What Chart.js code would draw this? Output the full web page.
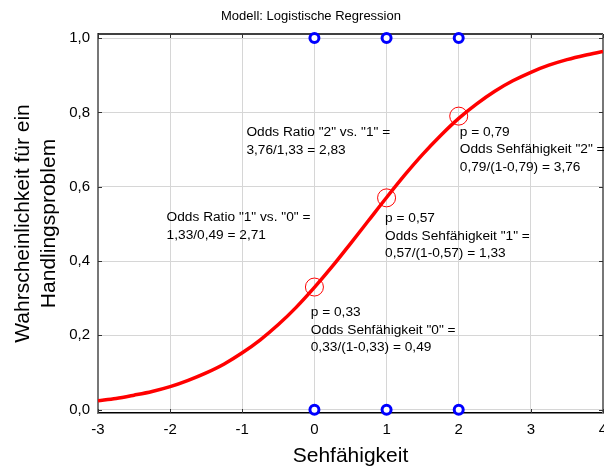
<!DOCTYPE html>
<html lang="de">
<head>
<meta charset="utf-8">
<title>Modell: Logistische Regression</title>
<script src="https://cdn.jsdelivr.net/npm/chart.js@4.4.0/dist/chart.umd.min.js"></script>
<style>
  html, body { margin: 0; padding: 0; background: #fff; }
  #wrap { width: 604px; height: 470px; }
</style>
</head>
<body>
<div id="wrap"><canvas id="logitChart" width="604" height="470"></canvas></div>
<script>
// ==================== Data ====================

const xTicks = [-3, -2, -1, 0, 1, 2, 3, 4];
const yTicks = [0, 0.2, 0.4, 0.6, 0.8, 1.0];

// fitted logistic curve, sampled every 0.25
const curveX = [-3, -2.75, -2.5, -2.25, -2, -1.75, -1.5, -1.25, -1, -0.75, -0.5, -0.25,
                0, 0.25, 0.5, 0.75, 1, 1.25, 1.5, 1.75, 2, 2.25, 2.5, 2.75, 3, 3.25, 3.5, 3.75, 4];
const curveY = [0.024, 0.030, 0.039, 0.049, 0.062, 0.079, 0.099, 0.123, 0.153, 0.188, 0.229, 0.276,
                0.329, 0.386, 0.447, 0.509, 0.571, 0.631, 0.687, 0.738, 0.784, 0.823, 0.857, 0.885,
                0.908, 0.927, 0.942, 0.954, 0.964];

// observed cases (1 = Handlingsproblem, 0 = keins)
const obsX = [0, 1, 2, 0, 1, 2];
const obsY = [1, 1, 1, 0, 0, 0];

// predicted probabilities per Sehfähigkeit level
const predX = [0, 1, 2];
const predY = [0.33, 0.57, 0.79];

// annotation texts and their anchors (data units: x, y of first line)
const noteLines = [
    ['Odds Ratio "2" vs. "1" =', '3,76/1,33 = 2,83'],
    ['Odds Ratio "1" vs. "0" =', '1,33/0,49 = 2,71'],
    ['p = 0,57', 'Odds Sehfähigkeit "1" =', '0,57/(1-0,57) = 1,33'],
    ['p = 0,33', 'Odds Sehfähigkeit "0" =', '0,33/(1-0,33) = 0,49'],
    ['p = 0,79', 'Odds Sehfähigkeit "2" =', '0,79/(1-0,79) = 3,76']
];
const noteAnchors = [[-0.943, 0.746], [-2.049, 0.517], [0.979, 0.514], [-0.051, 0.262], [2.015, 0.747]];

// ==================== Helpers ====================

const FONT = "'Liberation Sans', Arial, sans-serif";
Chart.defaults.font.family = FONT;
Chart.defaults.color = '#000';

const toPoints = (xs, ys) => xs.map((x, i) => ({ x: x, y: ys[i] }));
const formatDecimal = v => v.toFixed(1).replace('.', ',');

/**
 * Rahmen oben/rechts und kurze Ticks nach innen
 */
const framePlugin = {
    id: 'frame',
    beforeDatasetsDraw(chart) {
        const { ctx, chartArea: a, scales } = chart;
        ctx.save();
        ctx.strokeStyle = '#000';
        ctx.lineWidth = 1.5;
        ctx.beginPath();
        ctx.moveTo(a.left, a.top);
        ctx.lineTo(a.right, a.top);
        ctx.stroke();

        ctx.strokeStyle = '#777';
        ctx.lineWidth = 2;
        ctx.beginPath();
        ctx.moveTo(a.right, a.top);
        ctx.lineTo(a.right, a.bottom);
        ctx.stroke();

        ctx.strokeStyle = '#333';
        ctx.lineWidth = 1;
        ctx.beginPath();
        xTicks.forEach(v => {
            const px = Math.round(scales.x.getPixelForValue(v)) + 0.5;
            ctx.moveTo(px, a.top); ctx.lineTo(px, a.top + 4);
            ctx.moveTo(px, a.bottom); ctx.lineTo(px, a.bottom - 4);
        });
        yTicks.forEach(v => {
            const py = Math.round(scales.y.getPixelForValue(v)) + 0.5;
            ctx.moveTo(a.left, py); ctx.lineTo(a.left + 4, py);
            ctx.moveTo(a.right, py); ctx.lineTo(a.right - 4, py);
        });
        ctx.stroke();
        ctx.restore();
    }
};

/**
 * Textblöcke im Diagramm
 */
const notesPlugin = {
    id: 'notes',
    afterDatasetsDraw(chart) {
        const { ctx, scales: { x, y } } = chart;
        ctx.save();
        ctx.font = '13.7px ' + FONT;
        ctx.fillStyle = '#000';
        ctx.textAlign = 'left';
        ctx.textBaseline = 'middle';
        noteLines.forEach((lines, i) => {
            const px = x.getPixelForValue(noteAnchors[i][0]);
            const py = y.getPixelForValue(noteAnchors[i][1]);
            lines.forEach((t, k) => ctx.fillText(t, px, py + k * 17.5));
        });
        ctx.restore();
    }
};

/**
 * Überschrift
 */
const headerPlugin = {
    id: 'header',
    afterDraw(chart) {
        const ctx = chart.ctx;
        ctx.save();
        ctx.font = '13px ' + FONT;
        ctx.fillStyle = '#000';
        ctx.textAlign = 'center';
        ctx.textBaseline = 'middle';
        ctx.fillText('Modell: Logistische Regression', 311, 16.5);
        ctx.restore();
    }
};

// ==================== Chart ====================

new Chart(document.getElementById('logitChart'), {
    type: 'scatter',
    data: {
        datasets: [
            {
                type: 'line',
                data: toPoints(curveX, curveY),
                borderColor: '#ff0000',
                borderWidth: 3.5,
                pointRadius: 0,
                cubicInterpolationMode: 'monotone',
                fill: false,
                order: 2
            },
            {
                data: toPoints(predX, predY),
                pointRadius: 9,
                borderWidth: 1,
                borderColor: '#ff0000',
                backgroundColor: 'rgba(0,0,0,0)',
                order: 1
            },
            {
                data: toPoints(obsX, obsY),
                pointRadius: 4.5,
                borderWidth: 3,
                borderColor: '#0000ff',
                backgroundColor: '#ffffff',
                clip: false,
                order: 0
            }
        ]
    },
    options: {
        responsive: false,
        animation: false,
        events: [],
        layout: { autoPadding: false, padding: { top: 34, right: 1, left: 0, bottom: 0 } },
        plugins: {
            legend: { display: false },
            tooltip: { enabled: false }
        },
        scales: {
            x: {
                type: 'linear',
                min: -3,
                max: 4,
                afterBuildTicks: s => { s.ticks = xTicks.map(v => ({ value: v })); },
                afterFit: s => { s.height = 57; s.paddingLeft = 0; s.paddingRight = 0; },
                grid: { color: '#d6d6d6', lineWidth: 1, drawTicks: false },
                border: { color: '#000', width: 1.5 },
                ticks: { padding: 8, font: { size: 15 }, maxRotation: 0, autoSkip: false, callback: v => String(v) },
                title: { display: true, text: 'Sehfähigkeit', font: { size: 21 }, padding: { top: 0, bottom: 1 } }
            },
            y: {
                type: 'linear',
                min: -0.009,
                max: 1.011,
                afterBuildTicks: s => { s.ticks = yTicks.map(v => ({ value: v })); },
                afterFit: s => { s.width = 98; s.paddingTop = 0; s.paddingBottom = 0; },
                grid: { color: '#d6d6d6', lineWidth: 1, drawTicks: false },
                border: { color: '#777', width: 2 },
                ticks: { padding: 8, font: { size: 15 }, autoSkip: false, callback: v => formatDecimal(v) },
                title: {
                    display: true,
                    text: ['Wahrscheinlichkeit für ein', 'Handlingsproblem'],
                    font: { size: 21 },
                    padding: { top: 11, bottom: 0 }
                }
            }
        }
    },
    plugins: [framePlugin, notesPlugin, headerPlugin]
});
</script>
</body>
</html>
